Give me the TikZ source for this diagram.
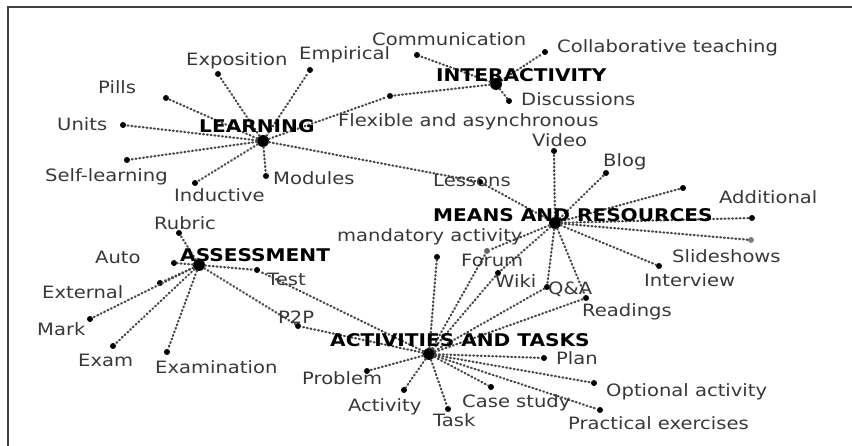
\documentclass[tikz,border=0pt]{standalone}
\usepackage{fontspec}
\setmainfont{DejaVu Sans}[FakeStretch=1.15]
\begin{document}
\begin{tikzpicture}[x=1pt,y=-1pt,
  leaf/.style={circle, fill=black, inner sep=0pt, minimum size=6pt},
  hub/.style={circle, fill=black, inner sep=0pt, minimum size=12pt},
  lbl/.style={anchor=base west, inner sep=0pt, text=black!78, font=\fontsize{17}{20}\selectfont},
  hublbl/.style={anchor=base west, inner sep=0pt, text=black, font=\fontsize{17.5}{20}\selectfont\bfseries},
  link/.style={draw=black!72, line width=2.2pt, line cap=round, dash pattern=on 0.9pt off 2.9pt},
  frame/.style={draw=black!75, line width=1.3pt}]
\useasboundingbox (0,0) rectangle (852,446);
\coordinate (fTR) at (852,7);
\coordinate (fTL) at (8,7);
\coordinate (fBL) at (8,446);
\draw[frame] (fTR) -- (fTL) -- (fBL);

% hubs
\node[hub] (L) at (263,141) {};
\node[hub] (I) at (496,84) {};
\node[hub] (M) at (555,223) {};
\node[hub] (A) at (199,265) {};
\node[hub] (T) at (429,354) {};

% leaves
\node[leaf] (exposition) at (218,74) {};
\node[leaf] (empirical) at (310,70) {};
\node[leaf] (communication) at (417,55) {};
\node[leaf] (pills) at (166,98) {};
\node[leaf] (units) at (123,125) {};
\node[leaf] (flexible) at (390,96) {};
\node[leaf] (selflearning) at (127,160) {};
\node[leaf] (inductive) at (195,183) {};
\node[leaf] (modules) at (266,176) {};
\node[leaf] (lessons) at (480,182) {};
\node[leaf] (collab) at (545,52) {};
\node[leaf] (discussions) at (509,101) {};
\node[leaf] (video) at (554,151) {};
\node[leaf] (blog) at (606,173) {};
\node[leaf] (extra) at (683,188) {};
\node[leaf] (additional) at (752,218) {};
\node[leaf, fill=black!50] (slideshows) at (751,240) {};
\node[leaf] (interview) at (659,266) {};
\node[leaf] (qa) at (547,287) {};
\node[leaf] (readings) at (586,298) {};
\node[leaf] (wiki) at (498,273) {};
\node[leaf, fill=black!60] (forum) at (487,251) {};
\node[leaf] (mandatory) at (437,257) {};
\node[leaf] (plan) at (544,358) {};
\node[leaf] (optional) at (594,383) {};
\node[leaf] (casestudy) at (491,387) {};
\node[leaf] (practical) at (600,410) {};
\node[leaf] (task) at (448,409) {};
\node[leaf] (activity) at (404,390) {};
\node[leaf] (problem) at (367,371) {};
\node[leaf] (ptwop) at (298,326) {};
\node[leaf] (test) at (257,270) {};
\node[leaf] (rubric) at (179,233) {};
\node[leaf] (auto) at (174,263) {};
\node[leaf] (external) at (160,283) {};
\node[leaf] (mark) at (90,319) {};
\node[leaf] (exam) at (113,346) {};
\node[leaf] (examination) at (167,352) {};

% connectors
\foreach \n in {exposition,empirical,pills,units,flexible,selflearning,inductive,modules,lessons}
  \draw[link] (L) -- (\n);
\foreach \n in {flexible,communication,collab,discussions}
  \draw[link] (I) -- (\n);
\foreach \n in {lessons,video,blog,extra,additional,slideshows,interview,readings,qa,wiki,forum}
  \draw[link] (M) -- (\n);
\foreach \n in {forum,wiki,qa,readings,mandatory,plan,optional,casestudy,practical,task,activity,problem,ptwop,test}
  \draw[link] (T) -- (\n);
\foreach \n in {rubric,auto,external,mark,exam,examination,test,ptwop}
  \draw[link] (A) -- (\n);

% hub labels
\node[hublbl] (tL) at (199,133) {LEARNING};
\node[hublbl] (tI) at (436,82) {INTERACTIVITY};
\node[hublbl] (tM) at (433,222) {MEANS AND RESOURCES};
\node[hublbl] (tA) at (180,262) {ASSESSMENT};
\node[hublbl] (tT) at (330,347) {ACTIVITIES AND TASKS};

% leaf labels
\node[lbl] (lexposition) at (186,66) {Exposition};
\node[lbl] (lempirical) at (299,60) {Empirical};
\node[lbl] (lcommunication) at (372,46) {Communication};
\node[lbl] (lpills) at (98,94) {Pills};
\node[lbl] (lunits) at (57,131) {Units};
\node[lbl] (lflexible) at (338,127) {Flexible and asynchronous};
\node[lbl] (lselflearning) at (45,182) {Self-learning};
\node[lbl] (linductive) at (174,202) {Inductive};
\node[lbl] (lmodules) at (273,185) {Modules};
\node[lbl] (lcollab) at (557,53) {Collaborative teaching};
\node[lbl] (ldiscussions) at (521,106) {Discussions};
\node[lbl] (lvideo) at (532,147) {Video};
\node[lbl] (lblog) at (603,167) {Blog};
\node[lbl] (llessons) at (433,187) {Lessons};
\node[lbl] (ladditional) at (719,204) {Additional};
\node[lbl] (lmandatory) at (337,242) {mandatory activity};
\node[lbl] (lforum) at (461,267) {Forum};
\node[lbl] (lwiki) at (495,288) {Wiki};
\node[lbl] (lqa) at (548,295) {Q\&A};
\node[lbl] (lslideshows) at (672,263) {Slideshows};
\node[lbl] (linterview) at (644,287) {Interview};
\node[lbl] (lreadings) at (582,317) {Readings};
\node[lbl] (lplan) at (556,365) {Plan};
\node[lbl] (loptional) at (606,397) {Optional activity};
\node[lbl] (lcasestudy) at (462,407) {Case study};
\node[lbl] (ltask) at (433,427) {Task};
\node[lbl] (lpractical) at (568,430) {Practical exercises};
\node[lbl] (lrubric) at (154,230) {Rubric};
\node[lbl] (lauto) at (95,264) {Auto};
\node[lbl] (ltest) at (267,286) {Test};
\node[lbl] (lexternal) at (42,299) {External};
\node[lbl] (lptwop) at (278,324) {P2P};
\node[lbl] (lmark) at (37,336) {Mark};
\node[lbl] (lexam) at (78,367) {Exam};
\node[lbl] (lexamination) at (155,374) {Examination};
\node[lbl] (lproblem) at (302,385) {Problem};
\node[lbl] (lactivity) at (348,411) {Activity};
\end{tikzpicture}
\end{document}
